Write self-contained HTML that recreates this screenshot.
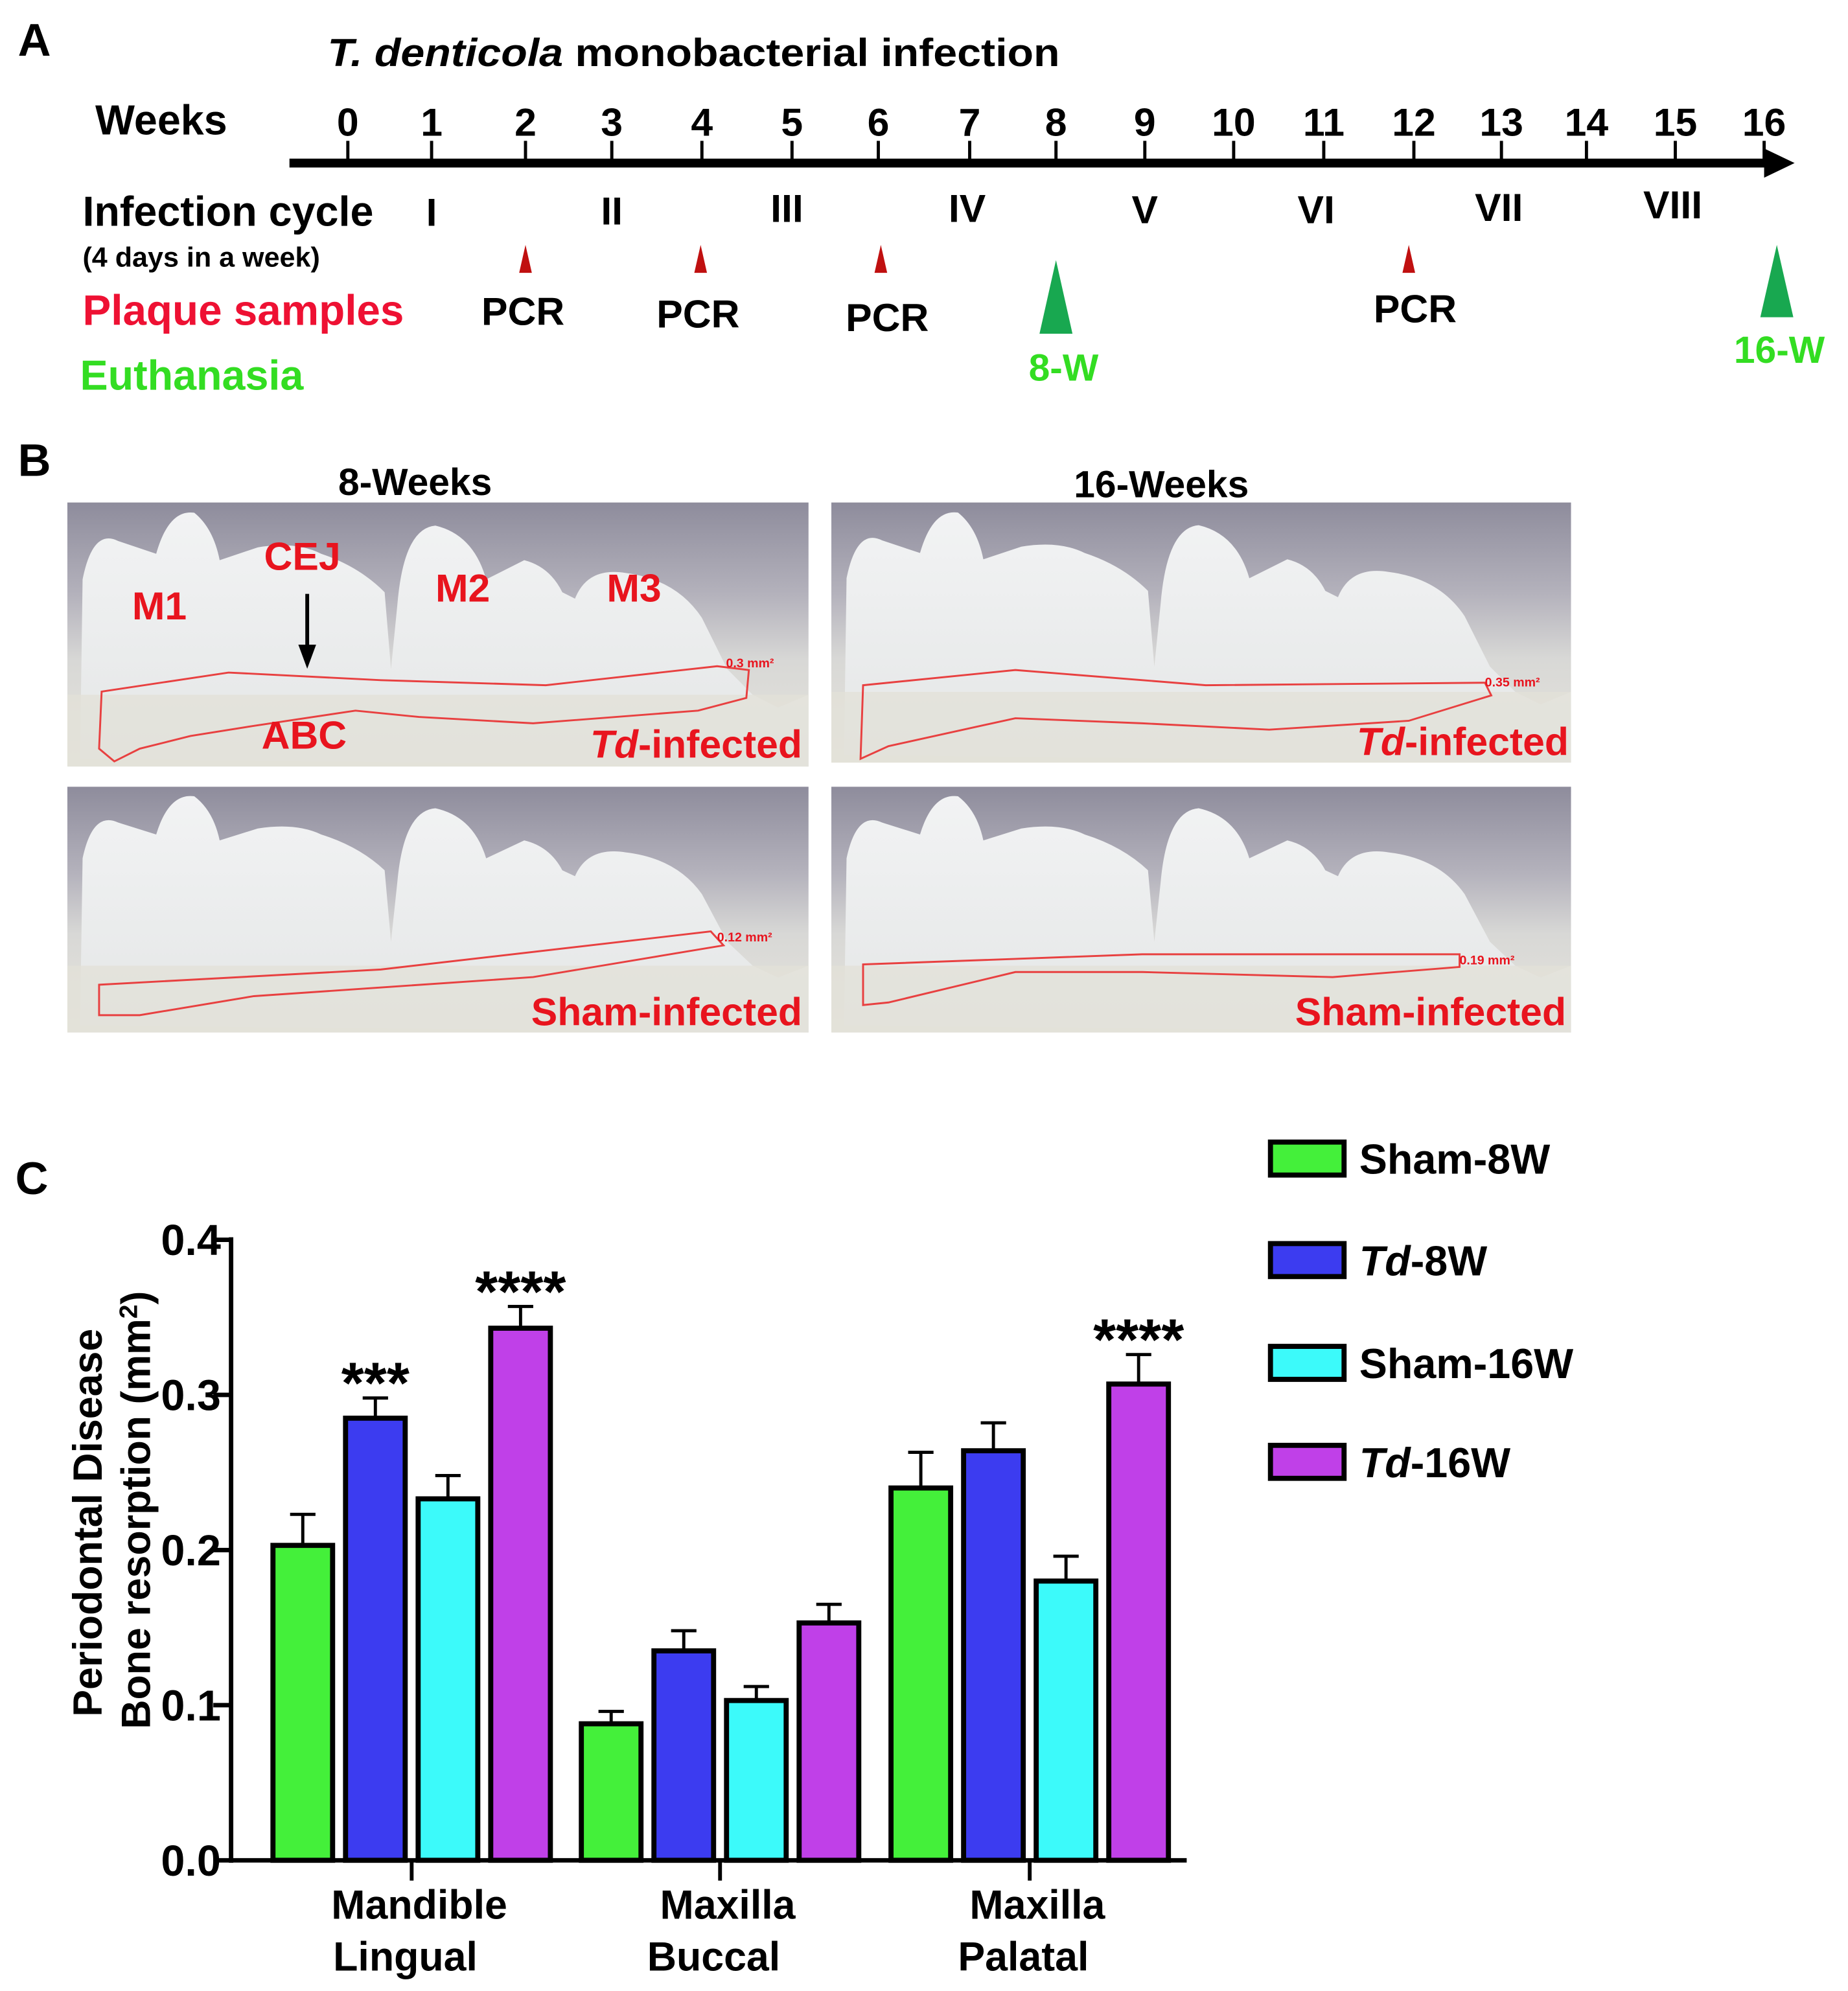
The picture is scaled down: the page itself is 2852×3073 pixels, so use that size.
<!DOCTYPE html>
<html><head><meta charset="utf-8"><style>
html,body{margin:0;padding:0;background:#fff}
svg{display:block}
text{font-family:"Liberation Sans",sans-serif;font-weight:bold}
</style></head><body>
<svg id="fig" width="2852" height="3073" viewBox="0 0 1456 1569" xmlns="http://www.w3.org/2000/svg">
<defs>
<linearGradient id="bg" x1="0" y1="0" x2="0" y2="1">
<stop offset="0" stop-color="#8e8c9c"/><stop offset="0.35" stop-color="#b4b2bc"/><stop offset="0.6" stop-color="#d8d8d6"/><stop offset="1" stop-color="#e6e4dc"/></linearGradient>
<linearGradient id="tooth" x1="0" y1="0" x2="0" y2="1">
<stop offset="0" stop-color="#f2f3f4"/><stop offset="1" stop-color="#e4e6e6"/></linearGradient>
<g id="photo">
<rect x="0" y="0" width="584" height="206" fill="url(#bg)"/>
<path d="M10,200 L12,60 Q20,20 40,30 L70,40 Q80,5 100,8 Q115,20 120,45 L150,35 Q180,30 200,40 Q230,50 250,70 L255,130 L260,80 Q265,20 290,18 Q320,25 330,60 L360,45 Q380,50 390,70 L400,75 Q410,50 440,55 Q480,60 500,90 L520,130 L540,150 L560,160 L584,150 L584,206 Z" fill="url(#tooth)"/>
<rect x="0" y="150" width="584" height="56" fill="#e2e1d8" opacity="0.8"/>
</g>
</defs>

<!-- Panel A -->
<text x="14" y="44" font-size="36">A</text>
<text x="258" y="52" font-size="31" textLength="577" lengthAdjust="spacingAndGlyphs"><tspan font-style="italic">T. denticola</tspan> monobacterial infection</text>
<text x="75" y="106" font-size="33">Weeks</text>
<g id="timeline"></g>
<text x="65" y="178" font-size="33">Infection cycle</text>
<text x="65" y="210" font-size="22">(4 days in a week)</text>
<g id="cycles" font-size="31" text-anchor="middle"></g>
<text x="65" y="256" font-size="33.5" fill="#ee1133">Plaque samples</text>
<text x="63" y="307" font-size="33" fill="#33dd22">Euthanasia</text>
<g id="pcr"></g>
<polygon points="832,205 819,263 845,263" fill="#18a850"/>
<polygon points="1400,193 1387,250 1413,250" fill="#18a850"/>
<text x="838" y="300" font-size="30" fill="#33dd22" text-anchor="middle">8-W</text>
<text x="1402" y="286" font-size="30" fill="#33dd22" text-anchor="middle">16-W</text>

<!-- Panel B -->
<text x="14" y="375" font-size="36">B</text>
<text x="327" y="390" font-size="30" text-anchor="middle">8-Weeks</text>
<text x="915" y="392" font-size="30" text-anchor="middle">16-Weeks</text>
<g><use href="#photo" transform="translate(53,396) scale(1,1.01)"/>
<path d="M80,545 L180,530 L300,536 L430,540 L565,525 L590,528 L588,550 L550,560 L420,570 L330,565 L280,560 L200,572 L150,580 L110,590 L90,600 L78,590 Z" fill="none" stroke="#e84040" stroke-width="1.5"/></g>
<g><use href="#photo" transform="translate(655,396) scale(0.998,0.995)"/>
<path d="M680,540 L800,528 L950,540 L1170,538 L1175,548 L1110,568 L1000,575 L900,570 L800,566 L700,588 L678,598 Z" fill="none" stroke="#e84040" stroke-width="1.5"/></g>
<g><use href="#photo" transform="translate(53,620) scale(1,0.94)"/>
<path d="M78,776 L300,764 L560,734 L570,745 L420,770 L200,785 L110,800 L78,800 Z" fill="none" stroke="#e84040" stroke-width="1.5"/></g>
<g><use href="#photo" transform="translate(655,620) scale(0.998,0.94)"/>
<path d="M680,760 L900,752 L1150,752 L1150,762 L1050,770 L900,766 L800,766 L700,790 L680,792 Z" fill="none" stroke="#e84040" stroke-width="1.5"/></g>
<g fill="#e8141e" font-size="31">
<text x="104" y="488">M1</text><text x="208" y="449">CEJ</text><text x="343" y="474">M2</text><text x="478" y="474">M3</text><text x="206" y="590">ABC</text>
<text x="632" y="597" text-anchor="end"><tspan font-style="italic">Td</tspan>-infected</text>
<text x="1236" y="595" text-anchor="end"><tspan font-style="italic">Td</tspan>-infected</text>
<text x="632" y="808" text-anchor="end">Sham-infected</text>
<text x="1234" y="808" text-anchor="end">Sham-infected</text>
<text x="572" y="526" font-size="10">0.3 mm²</text><text x="1170" y="541" font-size="10">0.35 mm²</text>
<text x="565" y="742" font-size="10">0.12 mm²</text><text x="1150" y="760" font-size="10">0.19 mm²</text>
</g>
<line x1="242" y1="468" x2="242" y2="512" stroke="#000" stroke-width="3"/>
<polygon points="235,508 249,508 242,527" fill="#000"/>

<!-- Panel C -->
<text x="12" y="941" font-size="36">C</text>
<g id="chart"></g>
<g id="legend"></g>
</svg>
<script>
const NS="http://www.w3.org/2000/svg";
function mk(tag,attrs,parent,txt){const e=document.createElementNS(NS,tag);for(const k in attrs)e.setAttribute(k,attrs[k]);if(txt!==undefined)e.textContent=txt;parent.appendChild(e);return e;}

// timeline
const weeks=[0,1,2,3,4,5,6,7,8,9,10,11,12,13,14,15,16];
const weekX=[274,340,414,482,553,624,692,764,832,902,972,1043,1114,1183,1250,1320,1390];
const tl=document.getElementById('timeline');
mk('rect',{x:228,y:125,width:1168,height:7,fill:'#000'},tl);
mk('polygon',{points:'1390,117 1414,128.5 1390,140',fill:'#000'},tl);
weeks.forEach((w,i)=>{
 const t=mk('line',{x1:weekX[i],y1:111,x2:weekX[i],y2:127,stroke:'#000','stroke-width':2.5},tl);
 
 
 const l=mk('text',{x:weekX[i],y:107,'font-size':31,'text-anchor':'middle'},tl,String(w));
 
 
});
const cycles=['I','II','III','IV','V','VI','VII','VIII'];
const cycleX=[340,482,620,762,902,1037,1181,1318];
const cycleY=[178,177,175,175,176,176,174,172];
const cg=document.getElementById('cycles');
cycles.forEach((c,i)=>{const t=mk('text',{x:cycleX[i],y:cycleY[i]},cg,c);
 
 });
const pcrX=[414,552,694,1110];
const pcrLX=[412,550,699,1115];
const pcrLY=[256,258,261,254];
const pg=document.getElementById('pcr');
pcrX.forEach((x,i)=>{
 const p=mk('polygon',{points:`${x},193 ${x-5},215 ${x+5},215`,fill:'#c01010'},pg);
 
 
 const t=mk('text',{x:pcrLX[i],y:pcrLY[i],'font-size':31,'text-anchor':'middle'},pg,'PCR');
 
 
});

// chart data
const categories=[['Mandible','Lingual'],['Maxilla','Buccal'],['Maxilla','Palatal']];
const seriesNames=['Sham-8W','Td-8W','Sham-16W','Td-16W'];
const sham8=[0.203,0.088,0.240];
const td8=[0.285,0.135,0.264];
const sham16=[0.233,0.103,0.180];
const td16=[0.343,0.153,0.307];
const sham8Err=[0.020,0.008,0.023];
const td8Err=[0.013,0.013,0.018];
const sham16Err=[0.015,0.009,0.016];
const td16Err=[0.014,0.012,0.019];
const stars=[['','***','','****'],['','','',''],['','','','****']];
const yTicks=[0,0.1,0.2,0.3,0.4];
const yTickLabels=['0.0','0.1','0.2','0.3','0.4'];

const colors=['#44f03a','#3c3cf0','#3cfafa','#c040e8'];
const series=[sham8,td8,sham16,td16];
const errs=[sham8Err,td8Err,sham16Err,td16Err];
const y0=1466,yTop=977,xAxis0=182,xAxis1=935;
const Y=v=>y0-(v/0.4)*(y0-yTop);
const groupStart=[215,458,702],barStep=57.2,barW=47;
const X=(g,s)=>groupStart[g]+s*barStep;
const ch=document.getElementById('chart');
categories.forEach((cat,g)=>{
 series.forEach((vals,s)=>{
  const x=X(g,s),v=vals[g],e=errs[s][g],cx=x+barW/2;
  const eb=mk('path',{d:`M${cx},${Y(v)} V${Y(v+e)} M${cx-10},${Y(v+e)} H${cx+10}`,stroke:'#000','stroke-width':2.5,fill:'none'},ch);
  
  
  const b=mk('rect',{x:x,y:Y(v),width:barW,height:y0-Y(v),fill:colors[s],stroke:'#000','stroke-width':4},ch);
  
  
  if(stars[g][s]){const t=mk('text',{x:cx,y:Y(v+e)+4,'font-size':46,'text-anchor':'middle','font-weight':'normal'},ch,stars[g][s]);
   
   }
 });
 const gc=X(g,0)+(X(g,3)+barW-X(g,0))/2;
 const tk=mk('line',{x1:gc,y1:y0,x2:gc,y2:y0+16,stroke:'#000','stroke-width':3},ch);
 
 
 const l1=mk('text',{x:gc+6,y:1512,'font-size':32,'text-anchor':'middle'},ch,cat[0]);
 
 
 const l2=mk('text',{x:gc-5,y:1553,'font-size':32,'text-anchor':'middle'},ch,cat[1]);
 
 
});
const ya=mk('line',{x1:xAxis0,y1:yTop-2,x2:xAxis0,y2:y0+2,stroke:'#000','stroke-width':3.5},ch);


const xa=mk('line',{x1:xAxis0,y1:y0,x2:xAxis1,y2:y0,stroke:'#000','stroke-width':3.5},ch);


yTicks.forEach((v,i)=>{
 const t=mk('line',{x1:xAxis0-14,y1:Y(v),x2:xAxis0,y2:Y(v),stroke:'#000','stroke-width':3.5},ch);
 
 
 const l=mk('text',{x:174,y:Y(v)+12,'font-size':34,'text-anchor':'end'},ch,yTickLabels[i]);
 
 
});
const yt=mk('text',{transform:'translate(80,1200) rotate(-90)','font-size':32,'text-anchor':'middle'},ch,'Periodontal Disease');


const yt2=mk('text',{transform:'translate(118,1190) rotate(-90)','font-size':32,'text-anchor':'middle'},ch);


yt2.innerHTML='Bone resorption (mm<tspan dy="-10" font-size="20">2</tspan><tspan dy="10">)</tspan>';

// legend
const legY=[913,993,1074,1152];
const lg=document.getElementById('legend');
seriesNames.forEach((n,i)=>{
 const r=mk('rect',{x:1001,y:legY[i]-13,width:58,height:26,fill:colors[i],stroke:'#000','stroke-width':4},lg);
 
 
 const t=mk('text',{x:1071,y:legY[i]+12,'font-size':33},lg);
 
 
 if(n.startsWith('Td')) t.innerHTML='<tspan font-style="italic">Td</tspan>'+n.slice(2);
 else t.textContent=n;
});
</script>
</body></html>
